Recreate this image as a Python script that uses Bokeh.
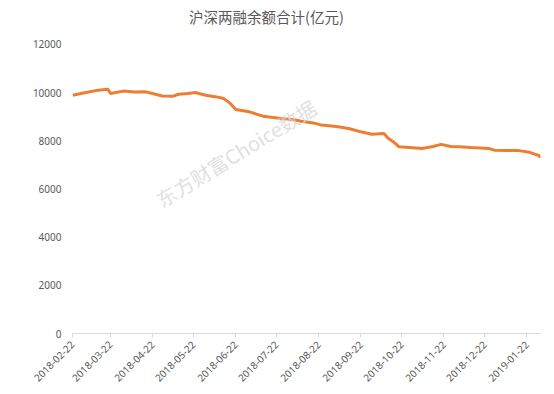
from datetime import datetime
from bokeh.plotting import figure
from bokeh.models import FixedTicker, DatetimeTickFormatter, Label, Range1d, NumeralTickFormatter
from bokeh.embed import file_html
from bokeh.resources import INLINE

title_text = "沪深两融余额合计(亿元)"
watermark = "东方财富Choice数据"

dates = ["2018-02-22", "2018-03-02", "2018-03-13", "2018-03-20", "2018-03-22", "2018-03-31",
         "2018-04-09", "2018-04-17", "2018-04-24", "2018-04-29", "2018-05-07", "2018-05-11",
         "2018-05-18", "2018-05-23", "2018-05-31", "2018-06-08", "2018-06-13", "2018-06-18",
         "2018-06-22", "2018-07-02", "2018-07-12", "2018-07-24", "2018-08-05", "2018-08-09",
         "2018-08-18", "2018-08-24", "2018-09-04", "2018-09-13", "2018-09-22", "2018-09-30",
         "2018-10-09", "2018-10-12", "2018-10-16", "2018-10-20", "2018-10-28", "2018-11-06",
         "2018-11-14", "2018-11-20", "2018-11-27", "2018-12-03", "2018-12-12", "2018-12-25",
         "2018-12-29", "2019-01-08", "2019-01-16", "2019-01-24", "2019-01-31", "2019-02-01"]
values = [9890, 9980, 10100, 10140, 9960, 10060,
          10020, 10030, 9930, 9860, 9850, 9930,
          9960, 10000, 9890, 9820, 9750, 9550,
          9300, 9200, 9020, 8930, 8860, 8810,
          8740, 8650, 8590, 8510, 8370, 8270,
          8300, 8100, 7950, 7750, 7720, 7680,
          7760, 7850, 7760, 7750, 7720, 7680,
          7610, 7600, 7590, 7520, 7380, 7300]

tick_dates = ["2018-02-22", "2018-03-22", "2018-04-22", "2018-05-22", "2018-06-22",
              "2018-07-22", "2018-08-22", "2018-09-22", "2018-10-22", "2018-11-22",
              "2018-12-22", "2019-01-22"]
y_ticks = [0, 2000, 4000, 6000, 8000, 10000, 12000]

x = [datetime.strptime(d, "%Y-%m-%d") for d in dates]
def ms(d):
    return datetime.strptime(d, "%Y-%m-%d").timestamp() * 1000

W, H = 546, 388
border_bottom = 54
frame_h = H - border_bottom          # frame spans the full height above the x axis
axis_h = 290                          # pixel height of the 0..12000 scale
y_end = max(y_ticks) * frame_h / axis_h

p = figure(width=W, height=H, output_backend="svg", toolbar_location=None,
           x_axis_type="datetime",
           x_range=Range1d(ms("2018-02-22"), ms("2019-02-01")),
           y_range=Range1d(0, y_end),
           min_border_left=72, min_border_right=6, min_border_top=0,
           min_border_bottom=border_bottom)

p.outline_line_color = None
p.xgrid.grid_line_color = None
p.ygrid.grid_line_color = None

p.line(x, values, line_color="#ED7D31", line_width=3)

p.xaxis.ticker = FixedTicker(ticks=[ms(d) for d in tick_dates])
fmt = "%Y-%m-%d"
p.xaxis.formatter = DatetimeTickFormatter(days=fmt, months=fmt, years=fmt, hours=fmt,
                                          minutes=fmt, seconds=fmt, milliseconds=fmt,
                                          minsec=fmt, hourmin=fmt)
p.xaxis.major_label_orientation = 0.785
p.xaxis.axis_line_color = "#d9d9d9"
p.xaxis.major_tick_line_color = "#d9d9d9"
p.xaxis.major_tick_out = 4
p.xaxis.major_tick_in = 0
p.xaxis.minor_tick_line_color = None
p.xaxis.major_label_text_font_size = "10px"
p.xaxis.major_label_text_color = "#595959"
p.xaxis.major_label_text_font = "Noto Sans"

p.yaxis.ticker = FixedTicker(ticks=y_ticks)
p.yaxis.formatter = NumeralTickFormatter(format="0")
p.yaxis.axis_line_color = None
p.yaxis.major_tick_line_color = None
p.yaxis.minor_tick_line_color = None
p.yaxis.major_label_text_font_size = "10px"
p.yaxis.major_label_text_color = "#595959"
p.yaxis.major_label_text_font = "Noto Sans"

p.add_layout(Label(x=194, y=frame_h - 17, x_units="screen", y_units="screen", text=title_text,
                   text_align="center", text_baseline="middle",
                   text_font="Noto Sans CJK SC", text_font_size="14.5px", text_color="#595959"))

p.add_layout(Label(x=93, y=120, x_units="screen", y_units="screen", text=watermark,
                   angle=0.55, text_font="Noto Sans CJK SC", text_font_size="20px",
                   text_color="#d8d8d8", text_alpha=0.8))

open("out.html", "w").write(file_html(p, INLINE))
